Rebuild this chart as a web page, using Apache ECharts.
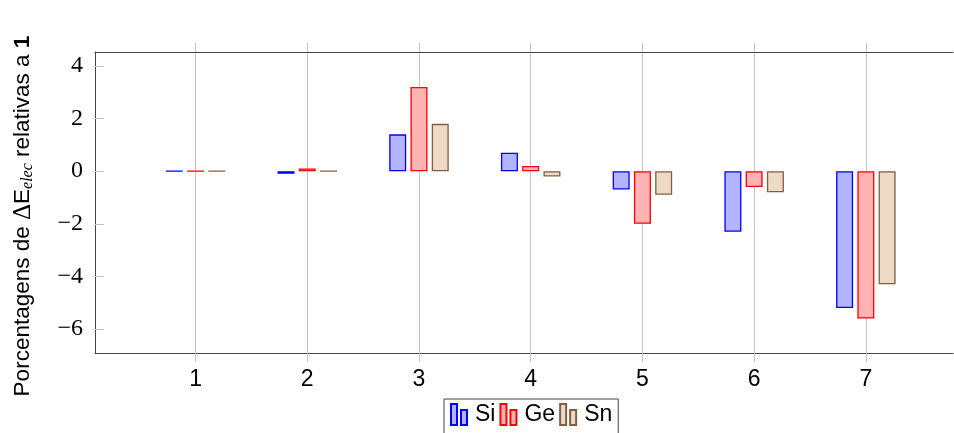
<!DOCTYPE html>
<html>
<head>
<meta charset="utf-8">
<script src="https://cdn.jsdelivr.net/npm/echarts@6/dist/echarts.min.js"></script>
<style>html,body{margin:0;padding:0;background:#fff}#c{width:954px;height:433px}</style>
</head>
<body>
<div id="c"></div>
<script>
const categories = [1, 2, 3, 4, 5, 6, 7];
const siValues = [0.0, -0.1, 1.4, 0.7, -0.7, -2.3, -5.2];
const geValues = [0.0, 0.1, 3.2, 0.2, -2.0, -0.6, -5.6];
const snValues = [0.0, 0.0, 1.8, -0.2, -0.9, -0.8, -4.3];
const yTicks = [-6, -4, -2, 0, 2, 4];
const seriesNames = ['Si', 'Ge', 'Sn'];

const SANS = 'Liberation Sans';
const SERIF = 'Liberation Serif';
const chart = echarts.init(document.getElementById('c'), null, {renderer: 'canvas'});
const pair = vals => categories.map((c, i) => [c, vals[i]]);
const fills = ['#b3b3ff', '#ffb3b3', '#ecd9c6'];
const strokes = ['#0000ff', '#ff0000', '#80603f'];
const allVals = [siValues, geValues, snValues];
const gridColor = '#c4c4c4';
const axisColor = '#444';
const legendIcon = 'path://M0,0h6v21h-6z M10,6h6v15h-6z';

chart.setOption({
  animation: false,
  grid: {left: 95, right: 1, top: 52, bottom: 80},
  legend: {
    left: 444, top: 399,
    data: seriesNames,
    icon: legendIcon,
    itemWidth: 16, itemHeight: 21, itemGap: 4,
    borderColor: '#444', borderWidth: 1,
    padding: [4, 6, 14, 6],
    textStyle: {fontFamily: SANS, fontSize: 23, color: '#000', padding: [0, 0, 0, 3]}
  },
  xAxis: [{
    type: 'value', min: 0.1, max: 7.78, position: 'bottom',
    axisLine: {show: true, onZero: false, lineStyle: {color: axisColor, width: 1}},
    axisTick: {show: true, customValues: categories, length: 9, inside: false, lineStyle: {color: gridColor}},
    axisLabel: {show: true, customValues: categories, margin: 15, fontFamily: SANS, fontSize: 23, color: '#000'},
    splitLine: {show: true, lineStyle: {color: gridColor, width: 1}}
  }, {
    type: 'value', min: 0.1, max: 7.78, position: 'top',
    axisLine: {show: true, onZero: false, lineStyle: {color: axisColor, width: 1}},
    axisTick: {show: true, customValues: categories, length: 9, inside: false, lineStyle: {color: gridColor}},
    axisLabel: {show: false},
    splitLine: {show: false}
  }],
  yAxis: {
    type: 'value', min: -6.91, max: 4.53,
    axisLine: {show: true, onZero: false, lineStyle: {color: axisColor, width: 1}},
    axisTick: {show: true, customValues: yTicks, inside: true, length: 9, lineStyle: {color: gridColor}},
    axisLabel: {show: true, customValues: yTicks, margin: 12, fontFamily: SERIF, fontSize: 24, color: '#000',
      formatter: v => String(v).replace('-', '\u2212')},
    splitLine: {show: false}
  },
  series: seriesNames.map((n, k) => ({
    name: n, type: 'bar', xAxisIndex: 0,
    data: pair(allVals[k]),
    barWidth: 17, barGap: '25%',
    itemStyle: {color: fills[k], borderColor: strokes[k], borderWidth: 1.3}
  })),
  graphic: [{
    type: 'text', x: 23, y: 216, rotation: Math.PI / 2,
    style: {
      text: '{a|Porcentagens de }{d|\u0394}{a|E}{s|elec}{a| relativas a }{b|1}',
      align: 'center', verticalAlign: 'middle',
      rich: {
        a: {fontFamily: SANS, fontSize: 22.5, fill: '#000'},
        d: {fontFamily: SERIF, fontSize: 25, fill: '#000'},
        s: {fontFamily: SERIF, fontSize: 16, fontStyle: 'italic', fill: '#000', padding: [10, 0, 0, 0]},
        b: {fontFamily: SANS, fontSize: 22.5, fontWeight: 'bold', fill: '#000'}
      }
    }
  }]
});
</script>
</body>
</html>
